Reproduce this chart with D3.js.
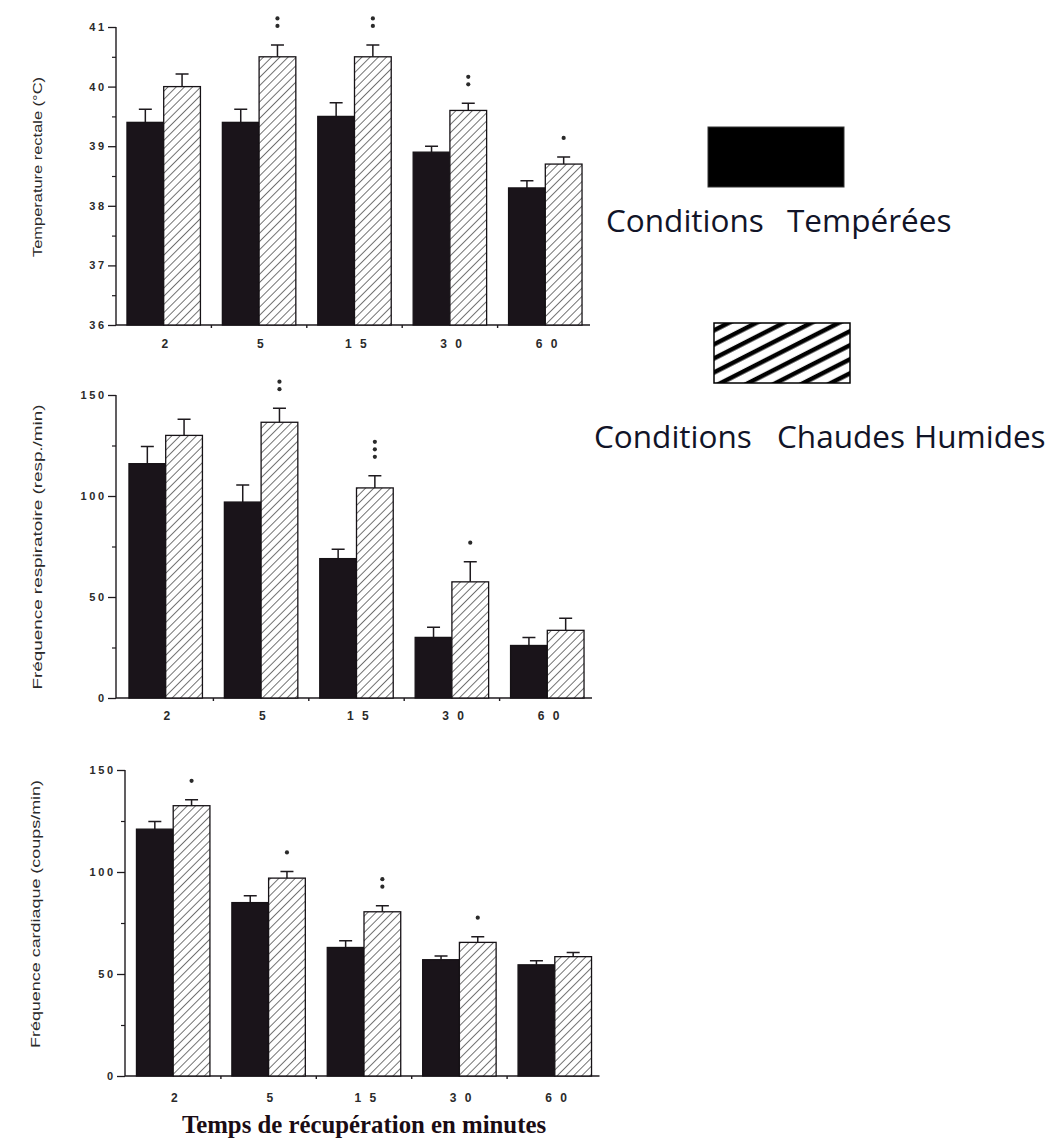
<!DOCTYPE html>
<html>
<head>
<meta charset="utf-8">
<script src="https://cdn.jsdelivr.net/npm/d3@7"></script>
<style>
  html, body { margin: 0; padding: 0; background: #fff; }
  svg { display: block; }
</style>
</head>
<body>
<svg id="chart" width="1056" height="1138"></svg>
<script>
// ---------------- DATA ----------------
const categories = ["2", "5", "15", "30", "60"];
const tickLabels = ["2", "5", "1 5", "3 0", "6 0"];
const seriesNames = ["Conditions Tempérées", "Conditions Chaudes Humides"];
const xTitle = "Temps de récupération en minutes";

// Température rectale (°C)
const tempTemperate    = [39.4, 39.4, 39.5, 38.9, 38.3];
const tempTemperateErr = [0.22, 0.22, 0.23, 0.1, 0.12];
const tempHumid        = [40.0, 40.5, 40.5, 39.6, 38.7];
const tempHumidErr     = [0.21, 0.2, 0.2, 0.12, 0.12];
const tempSig          = [0, 2, 2, 2, 1];
const tempTicks        = [36, 37, 38, 39, 40, 41];
const tempMinorTicks   = [36.5, 37.5, 38.5, 39.5, 40.5];

// Fréquence respiratoire (resp./min)
const respTemperate    = [116, 97, 69, 30, 26];
const respTemperateErr = [8.5, 8.5, 4.7, 5, 4];
const respHumid        = [130, 136.5, 104, 57.5, 33.5];
const respHumidErr     = [8, 7, 6, 10, 6];
const respSig          = [0, 2, 3, 1, 0];
const respTicks        = [0, 50, 100, 150];
const respMinorTicks   = [25, 75, 125];

// Fréquence cardiaque (coups/min)
const cardTemperate    = [121, 85, 63, 57, 54.5];
const cardTemperateErr = [3.8, 3.3, 3.3, 1.8, 2];
const cardHumid        = [132.5, 97, 80.5, 65.5, 58.5];
const cardHumidErr     = [2.9, 3.3, 3, 2.8, 2];
const cardSig          = [1, 1, 2, 1, 0];
const cardTicks        = [0, 50, 100, 150];
const cardMinorTicks   = [25, 75, 125];

// ---------------- LAYOUT ----------------
const panels = [
  { label: "Temperature rectale (°C)", domain: [36, 41], ticks: tempTicks, minor: tempMinorTicks,
    a: tempTemperate, aErr: tempTemperateErr, b: tempHumid, bErr: tempHumidErr, sig: tempSig,
    axisX: 116, x0: 116, top: 27, bottom: 325, labelDy: 23, yLabelX: 37, yLabelY: 167, yLabelLen: 180 },
  { label: "Fréquence respiratoire (resp./min)", domain: [0, 150], ticks: respTicks, minor: respMinorTicks,
    a: respTemperate, aErr: respTemperateErr, b: respHumid, bErr: respHumidErr, sig: respSig,
    axisX: 116, x0: 118, top: 395, bottom: 698, labelDy: 22, yLabelX: 37, yLabelY: 547, yLabelLen: 285 },
  { label: "Fréquence cardiaque (coups/min)", domain: [0, 150], ticks: cardTicks, minor: cardMinorTicks,
    a: cardTemperate, aErr: cardTemperateErr, b: cardHumid, bErr: cardHumidErr, sig: cardSig,
    axisX: 125, x0: 125.5, top: 770, bottom: 1076, labelDy: 26, yLabelX: 35, yLabelY: 914, yLabelLen: 268 }
];
const step = 95.4;
const ink = "#1e1a1e";

const svg = d3.select("#chart");
svg.append("rect").attr("width", 1056).attr("height", 1138).attr("fill", "#fff");

const defs = svg.append("defs");
// bar hatching
const hatch = defs.append("pattern")
  .attr("id", "hatch").attr("patternUnits", "userSpaceOnUse")
  .attr("width", 5.8).attr("height", 5.8)
  .attr("patternTransform", "rotate(45)");
hatch.append("rect").attr("width", 5.8).attr("height", 5.8).attr("fill", "#fff");
hatch.append("line").attr("x1", 0).attr("y1", 0).attr("x2", 0).attr("y2", 5.8)
  .attr("stroke", "#2a2a2a").attr("stroke-width", 1.3);
// legend hatching (thicker)
const hatch2 = defs.append("pattern")
  .attr("id", "hatchLegend").attr("patternUnits", "userSpaceOnUse")
  .attr("width", 12.5).attr("height", 12.5)
  .attr("patternTransform", "rotate(-27)");
hatch2.append("rect").attr("width", 12.5).attr("height", 12.5).attr("fill", "#fff");
hatch2.append("line").attr("x1", 0).attr("y1", 6).attr("x2", 12.5).attr("y2", 6)
  .attr("stroke", "#000").attr("stroke-width", 4.5);

panels.forEach(p => {
  const g = svg.append("g");
  const x = d3.scaleBand().domain(categories)
    .range([p.x0, p.x0 + step * categories.length])
    .paddingInner(0.23).paddingOuter(0.115);
  const xs = d3.scaleBand().domain([0, 1]).range([0, x.bandwidth()]);
  const y = d3.scaleLinear().domain(p.domain).range([p.bottom, p.top]);
  const xEnd = p.x0 + step * categories.length;

  // y axis
  const yAxis = d3.axisLeft(y).tickValues(p.ticks).tickSize(8).tickPadding(4)
    .tickFormat(d3.format("d"));
  const ya = g.append("g").attr("transform", `translate(${p.axisX},0)`).call(yAxis);
  ya.select(".domain").attr("stroke", ink).attr("stroke-width", 1.4).attr("d", `M0,${p.top}V${p.bottom}`);
  ya.selectAll(".tick line").attr("stroke", ink).attr("stroke-width", 1.3);
  ya.selectAll(".tick text")
    .attr("font-family", "Liberation Sans, Arial, sans-serif")
    .attr("font-weight", "bold").attr("font-size", 11)
    .attr("letter-spacing", 2.6).attr("dx", 2.6)
    .attr("fill", "#2a2a2a");
  const ym = d3.axisLeft(y).tickValues(p.minor).tickSize(4).tickFormat("");
  const yma = g.append("g").attr("transform", `translate(${p.axisX},0)`).call(ym);
  yma.select(".domain").remove();
  yma.selectAll(".tick line").attr("stroke", ink).attr("stroke-width", 1.2);

  // x axis
  g.append("line").attr("x1", p.axisX).attr("x2", xEnd - 3)
    .attr("y1", p.bottom).attr("y2", p.bottom)
    .attr("stroke", ink).attr("stroke-width", 1.4);
  const mids = categories.slice(1).map(c => x(c) - (x.step() - x.bandwidth()) / 2);
  g.selectAll(".midtick").data(mids).join("line")
    .attr("x1", d => d).attr("x2", d => d)
    .attr("y1", p.bottom).attr("y2", p.bottom + 3)
    .attr("stroke", ink).attr("stroke-width", 1.4);
  g.selectAll(".xlab").data(categories).join("text")
    .attr("x", (d) => x(d) + x.bandwidth() / 2 + 2.5)
    .attr("y", p.bottom + p.labelDy)
    .attr("text-anchor", "middle")
    .attr("font-family", "Liberation Sans, Arial, sans-serif")
    .attr("font-weight", "bold").attr("font-size", 12)
    .attr("fill", "#2a2a2a")
    .attr("xml:space", "preserve")
    .attr("letter-spacing", 2.5)
    .text((d, i) => tickLabels[i]);

  // y label
  g.append("text")
    .attr("transform", `translate(${p.yLabelX},${p.yLabelY}) rotate(-90)`)
    .attr("text-anchor", "middle").attr("dominant-baseline", "central")
    .attr("font-family", "Liberation Sans, Arial, sans-serif")
    .attr("font-size", 13.5).attr("fill", "#2a2a2a")
    .attr("textLength", p.yLabelLen).attr("lengthAdjust", "spacingAndGlyphs")
    .text(p.label);

  // bars
  const rows = categories.map((c, i) => ([
    { c, s: 0, v: p.a[i], e: p.aErr[i] },
    { c, s: 1, v: p.b[i], e: p.bErr[i], sig: p.sig[i] }
  ])).flat();

  g.selectAll(".err").data(rows).join("path")
    .attr("d", d => {
      const cx = x(d.c) + xs(d.s) + xs.bandwidth() / 2;
      const y1 = y(d.v), y2 = y(d.v + d.e);
      return `M${cx},${y1}V${y2}M${cx - 6.5},${y2}H${cx + 6.5}`;
    })
    .attr("stroke", ink).attr("stroke-width", 1.5).attr("fill", "none");

  g.selectAll(".bar").data(rows).join("rect")
    .attr("x", d => x(d.c) + xs(d.s))
    .attr("y", d => y(d.v))
    .attr("width", xs.bandwidth())
    .attr("height", d => y(p.domain[0]) - y(d.v))
    .attr("fill", d => d.s === 0 ? "#1a141a" : "url(#hatch)")
    .attr("stroke", "#161216").attr("stroke-width", 1.3);

  // significance dots
  const dots = [];
  rows.filter(d => d.s === 1 && d.sig > 0).forEach(d => {
    const cx = x(d.c) + xs(d.s) + xs.bandwidth() / 2;
    const base = y(d.v + d.e) - 19;
    for (let k = 0; k < d.sig; k++) dots.push({ cx, cy: base - k * 7.5 });
  });
  g.selectAll(".sig").data(dots).join("circle")
    .attr("cx", d => d.cx).attr("cy", d => d.cy).attr("r", 2.1)
    .attr("fill", "#2a2a2a");
});

// x title
svg.append("text")
  .attr("x", 364).attr("y", 1133)
  .attr("text-anchor", "middle")
  .attr("font-family", "Liberation Serif, Times New Roman, serif")
  .attr("font-weight", "bold").attr("font-size", 24.8)
  .attr("fill", "#1a0c14")
  .text(xTitle);

// legend
const lg = svg.append("g");
lg.append("rect").attr("x", 708).attr("y", 127).attr("width", 136).attr("height", 60)
  .attr("fill", "#000").attr("stroke", "#333").attr("stroke-width", 1);
const t1 = lg.append("text").attr("y", 232)
  .attr("font-family", "Open Sans, Noto Sans, sans-serif").attr("font-size", 31.5)
  .attr("fill", "#111428");
const w1 = seriesNames[0].split(" ");
t1.append("tspan").attr("x", 606).text(w1[0]);
t1.append("tspan").attr("x", 787).text(w1[1]);

lg.append("rect").attr("x", 714).attr("y", 323).attr("width", 136).attr("height", 60)
  .attr("fill", "url(#hatchLegend)").attr("stroke", "#000").attr("stroke-width", 1.5);
const t2 = lg.append("text").attr("y", 448)
  .attr("font-family", "Open Sans, Noto Sans, sans-serif").attr("font-size", 31.5)
  .attr("fill", "#111428");
const w2 = seriesNames[1].split(" ");
t2.append("tspan").attr("x", 594).text(w2[0]);
t2.append("tspan").attr("x", 777).text(w2[1]);
t2.append("tspan").attr("x", 914).text(w2[2]);
</script>
</body>
</html>
